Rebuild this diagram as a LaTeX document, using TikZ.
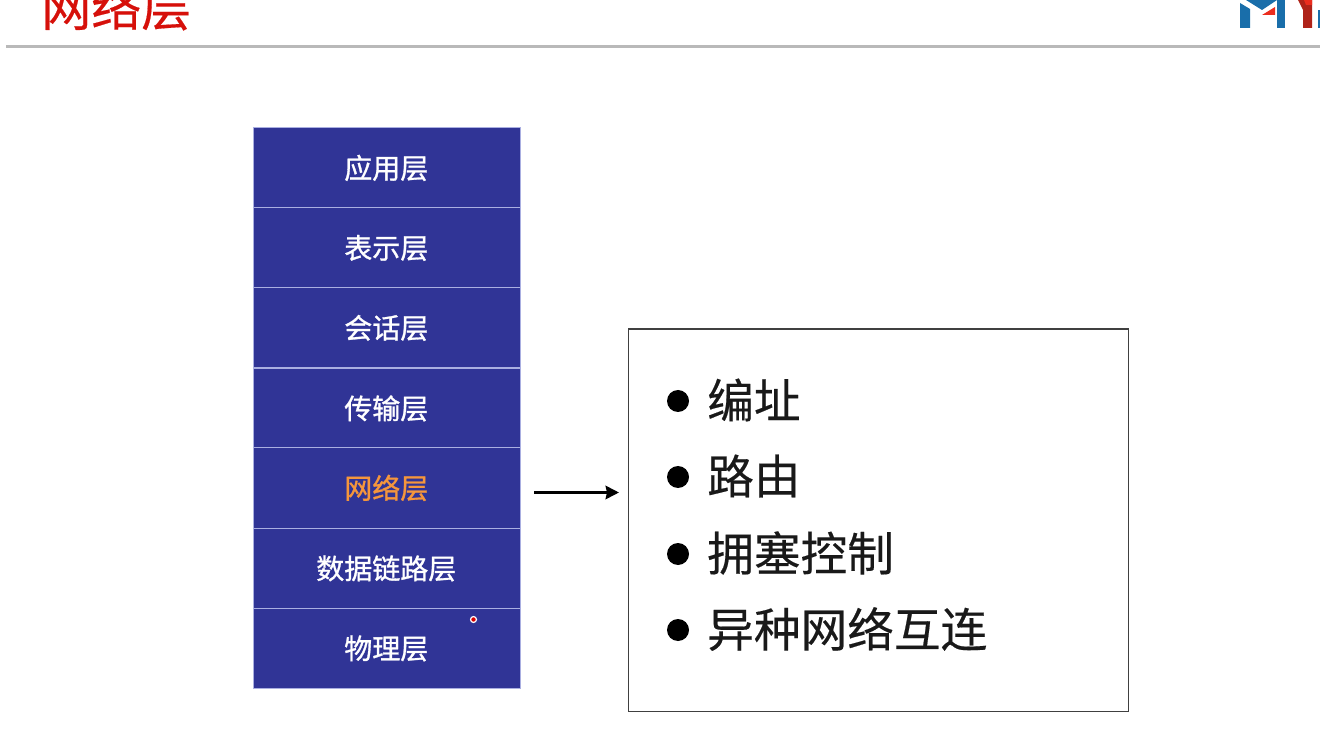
\documentclass[tikz,border=0pt]{standalone}
\usepackage{fontspec}
\newfontfamily\cjk[FakeBold=0.35]{Noto Sans CJK SC}
\newfontfamily\cjkb[FakeBold=1.0]{Noto Sans CJK SC}
\usetikzlibrary{arrows.meta}
\definecolor{layerblue}{RGB}{48,52,150}
\definecolor{layerline}{RGB}{170,175,225}
\definecolor{titlered}{RGB}{214,16,10}
\definecolor{hilite}{RGB}{245,150,60}
\definecolor{rulegray}{RGB}{185,185,185}
\definecolor{logoblue}{RGB}{25,110,170}
\definecolor{logored}{RGB}{235,45,30}
\definecolor{logodark}{RGB}{175,35,25}
\newcommand\laytext[1]{\raisebox{0.75pt}{\kern-0.75pt #1}}
\tikzset{
  layerbox/.style={draw=layerline,line width=0.7pt,fill=layerblue,minimum width=200pt,minimum height=60pt,inner sep=0pt,text=white,font=\cjkb\fontsize{21}{21}\selectfont,anchor=north west},
  itemtext/.style={anchor=west,inner sep=0pt,text=black!90,font=\cjk\fontsize{35}{35}\selectfont},
  dotmark/.style={circle,fill=black,inner sep=0pt,minimum size=16.5pt}
}
\begin{document}
\begin{tikzpicture}[x=0.75pt,y=-0.75pt]
\useasboundingbox (0,0) rectangle (1320,737);
\begin{scope}
\clip (0,0) rectangle (1320,737);
\node[anchor=west,inner sep=0pt,text=titlered,font=\cjk\fontsize{37.5}{37.5}\selectfont] (title) at (41,7) {网络层};
\fill[logoblue] (1240,3) -- (1250,9) -- (1250,28) -- (1240,28) -- cycle;
\fill[logoblue] (1246,0) -- (1277,0) -- (1262,10) -- cycle;
\fill[logoblue] (1277,0) -- (1285,0) -- (1285,28) -- (1277,28) -- cycle;
\fill[logored] (1262,15) -- (1275,7) -- (1275,15) -- cycle;
\fill[logodark] (1298,0) -- (1312,0) -- (1312,28) -- (1303,28) -- (1303,10) -- cycle;
\fill[logored] (1304,0) -- (1312,0) -- (1312,5) -- (1306,5) -- cycle;
\fill[logoblue] (1318,10) -- (1320,10) -- (1320,28) -- (1318,28) -- cycle;
\end{scope}
\fill[rulegray] (6,45) rectangle (1320,48.5);
\node[layerbox] (l1) at (253,127.5) {\laytext{应用层}};
\node[layerbox] (l2) at (253,207.5) {\laytext{表示层}};
\node[layerbox] (l3) at (253,287.5) {\laytext{会话层}};
\node[layerbox] (l4) at (253,368) {\laytext{传输层}};
\node[layerbox,minimum height=60.75pt] (l5) at (253,447) {\laytext{\textcolor{hilite}{网络层}}};
\node[layerbox] (l6) at (253,528) {\laytext{数据链路层}};
\node[layerbox] (l7) at (253,608) {\laytext{物理层}};
\fill[white] (473.5,619.5) circle[radius=3.6];
\fill[red!85!black] (473.5,619.5) circle[radius=2.2];
\node[draw=black!75,line width=0.9pt,fill=white,minimum width=375pt,minimum height=287pt,inner sep=0pt,anchor=north west] (box) at (628,328.5) {};
\coordinate (from) at (534,492.5);
\coordinate (to) at (619,492.5);
\draw[-{Stealth[length=10pt,width=10pt,inset=1pt]},line width=2.2pt,black] (from) -- (to);
\foreach \y/\t/\n in {401/编址/a,477/路由/b,554/拥塞控制/c,630/异种网络互连/d}{
  \node[dotmark] (dot\n) at (678,\y) {};
  \node[itemtext] (item\n) at (707,\y-1) {\t};
}
\end{tikzpicture}
\end{document}
